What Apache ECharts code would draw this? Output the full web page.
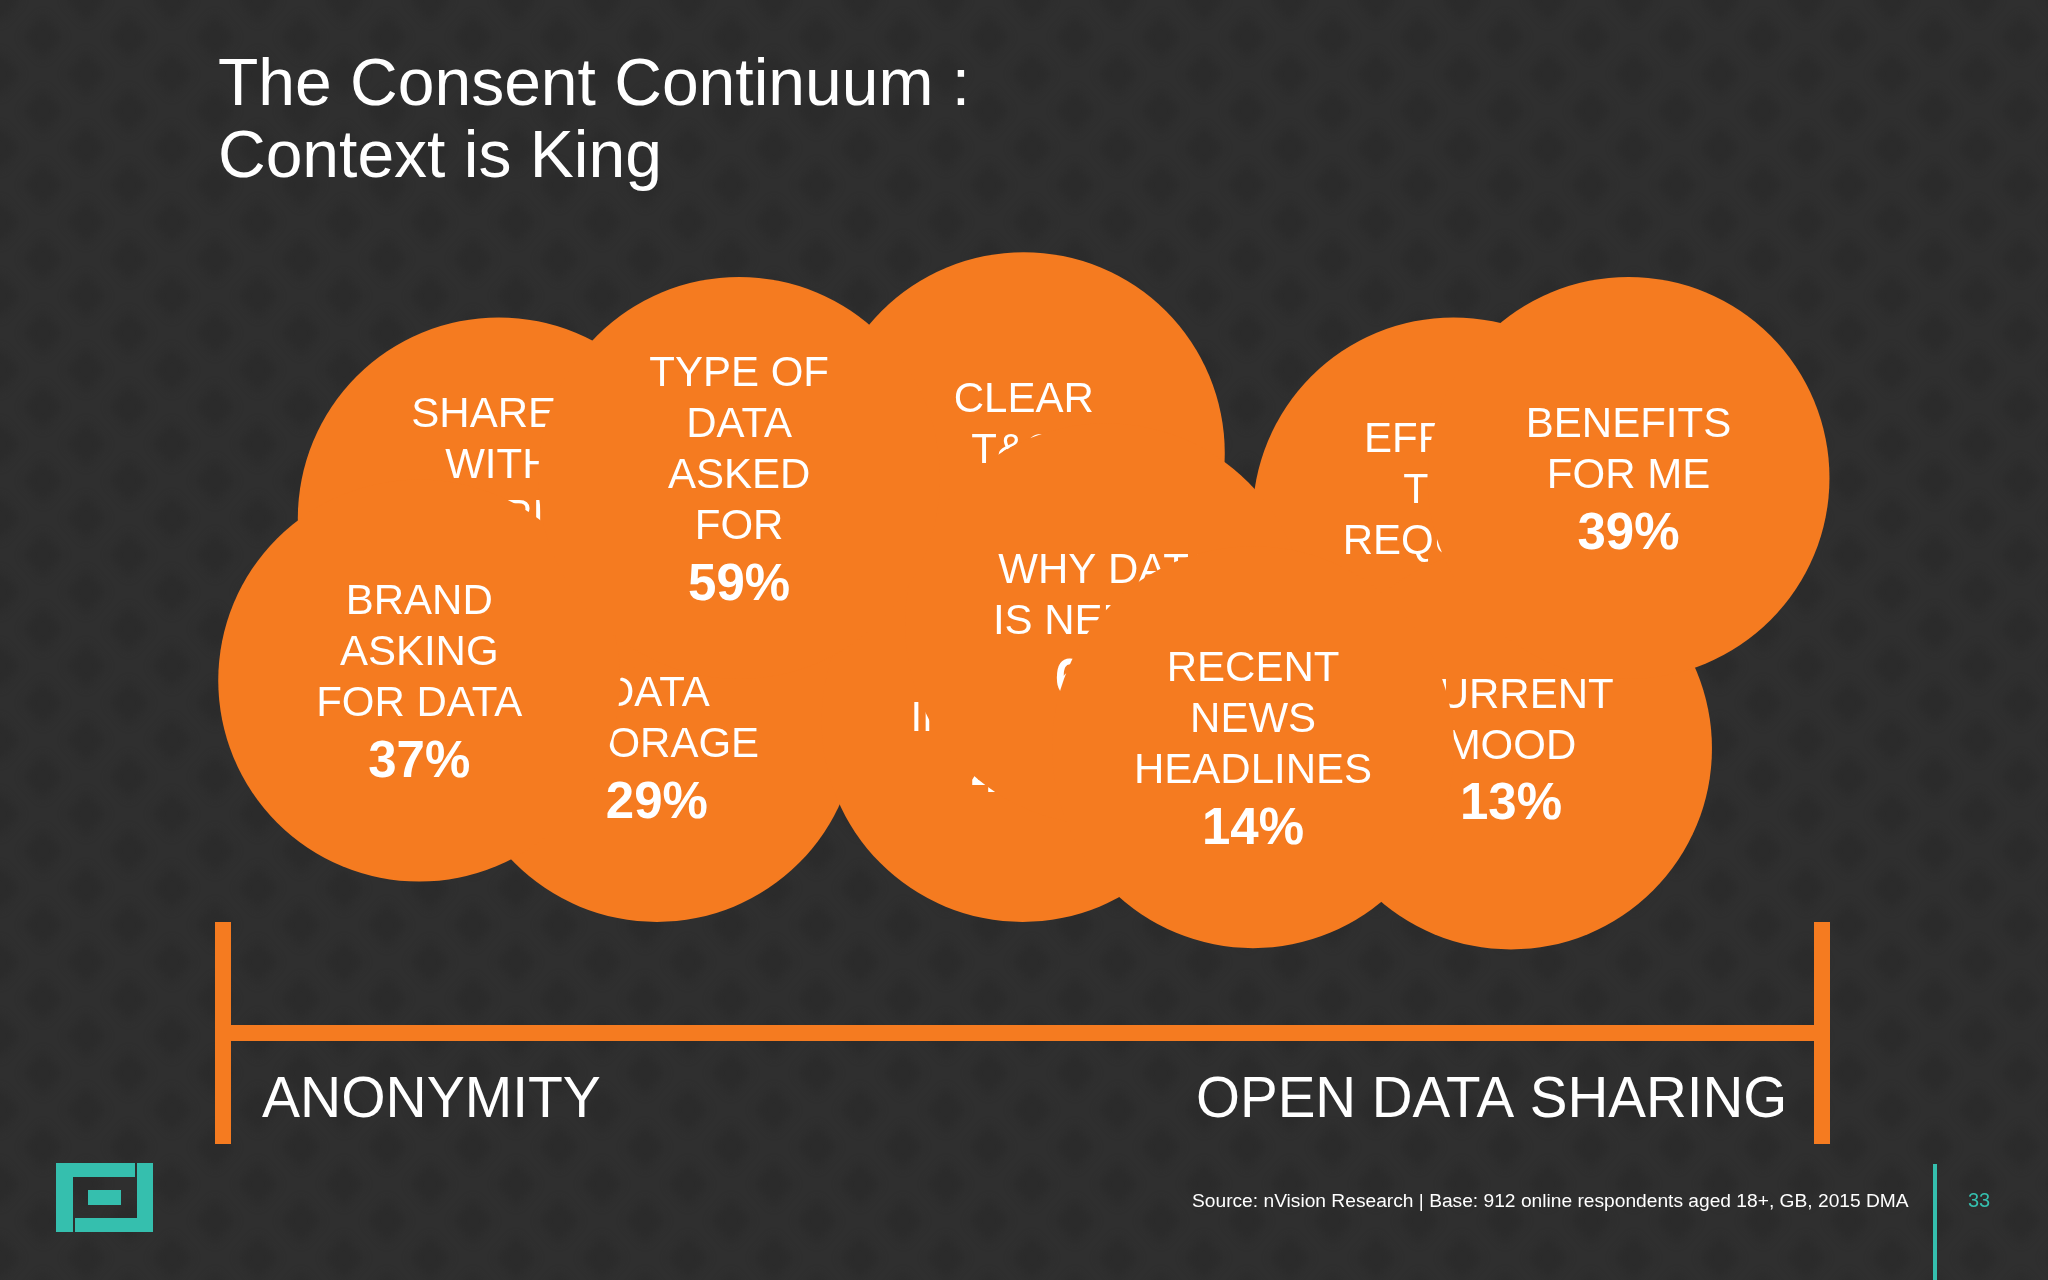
<!DOCTYPE html>
<html><head><meta charset="utf-8">
<style>html,body{margin:0;padding:0;background:#2e2e2f}#c{width:2048px;height:1280px}</style>
<script src="https://cdn.jsdelivr.net/npm/echarts@6/dist/echarts.min.js"></script>
</head><body><div id="c"></div>
<script>
// Bubbles, bottom of the stack first: later ones cover earlier ones and their text.
var bubbleNames = ['LENGTH OF\nDATA\nSTORAGE','SHARED\nWITH\nTHIRD\nPARTIES','EFFORT \nTIME\nREQUIRED','CLEAR\nT&Cs','FINANCIAL\nINCENTIVE','CURRENT\nMOOD','WHY DATA\nIS NEEDED','BRAND\nASKING\nFOR DATA','TYPE OF\nDATA\nASKED\nFOR','RECENT\nNEWS\nHEADLINES','BENEFITS\nFOR ME'];
// Percentages; those of SHARED, EFFORT, CLEAR, INCENTIVE and WHY are hidden in the reference (estimates).
var bubblePercents = [29,35,24,55,48,13,62,37,59,14,39];
// Position along the continuum (0 = anonymity, 100 = open data sharing)
var continuum = [27.16,17.29,76.92,50.08,50.0,80.51,55.22,12.32,32.3,64.4,87.85];
// Height above the continuum bar
var heights = [39.67,65.5,65.5,73.83,39.67,36.17,52.0,44.83,70.67,36.33,70.67];
var titleText = 'The Consent Continuum :\nContext is King';
var leftEnd = 'ANONYMITY', rightEnd = 'OPEN DATA SHARING';
var sourceText = 'Source: nVision Research | Base: 912 online respondents aged 18+, GB, 2015 DMA';
var pageNumber = '33';

var ORANGE='#F57B20', TEAL='#35BFAE', BG='#2F2F2F', FONT='"Liberation Sans",Arial,sans-serif';

// faint, soft diamond wallpaper
function wallpaper(){
  var W=172,H=148,c=document.createElement('canvas');c.width=W;c.height=H;
  var g=c.getContext('2d');g.fillStyle=BG;g.fillRect(0,0,W,H);
  g.filter='blur(4px)';g.fillStyle='#2B2B2B';
  var centres=[[0,0],[86,0],[172,0],[0,74],[86,74],[172,74],[0,148],[86,148],[172,148],
               [43,37],[129,37],[43,111],[129,111]];
  centres.forEach(function(p){
    g.beginPath();g.moveTo(p[0],p[1]-22);g.lineTo(p[0]+20,p[1]);g.lineTo(p[0],p[1]+22);g.lineTo(p[0]-20,p[1]);g.closePath();g.fill();
  });
  return c;
}

var series = bubbleNames.map(function(name,i){
  return {
    type:'scatter', z:i+2, silent:true, symbol:'circle', symbolSize:402,
    itemStyle:{color:ORANGE,opacity:1},
    label:{show:true,position:'inside',offset:[0,6],color:'#fff',fontFamily:FONT,
      formatter:function(){return name.split('\n').map(function(s){return '{t|'+s+'}';}).join('\n')+'\n{p|'+bubblePercents[i]+'%}';},
      rich:{t:{fontSize:42,lineHeight:51,color:'#fff',fontFamily:FONT},
            p:{fontSize:51,lineHeight:66,fontWeight:'bold',color:'#fff',fontFamily:FONT}}},
    data:[[continuum[i],heights[i]]]
  };
});

function rect(x,y,w,h,c){return {type:'rect',silent:true,z:50,shape:{x:x,y:y,width:w,height:h},style:{fill:c}};}
function poly(p,c){return {type:'polygon',silent:true,z:50,shape:{points:p},style:{fill:c}};}
function txt(x,y,t,size,c,align){return {type:'text',silent:true,z:50,x:x,y:y,style:{text:t,fontSize:size,fill:c,fontFamily:FONT,align:align||'left',verticalAlign:'middle'}};}

var chart=echarts.init(document.getElementById('c'),null,{renderer:'canvas',width:2048,height:1280});
chart.setOption({
  animation:false,
  backgroundColor:{image:wallpaper(),repeat:'repeat'},
  title:{text:titleText,left:213,top:46,textStyle:{color:'#fff',fontSize:66,fontWeight:'normal',fontFamily:FONT,lineHeight:72}},
  grid:{left:222,width:1601,top:248,height:784},
  xAxis:{type:'value',min:0,max:100,show:false},
  yAxis:{type:'value',min:0,max:100,show:false},
  series:series,
  graphic:[
    rect(215,922,16,222,ORANGE),rect(1814,922,16,222,ORANGE),rect(231,1025,1583,16,ORANGE),
    txt(262,1101,leftEnd,57,'#fff'),txt(1196,1101,rightEnd,56.5,'#fff'),
    poly([[56,1163],[135,1163],[135,1177],[73,1177],[73,1232],[56,1232]],TEAL),
    poly([[137,1163],[153,1163],[153,1232],[75,1232],[75,1218],[137,1218]],TEAL),
    rect(88,1190,33,15,TEAL),
    rect(1933,1164,4,116,TEAL),
    txt(1192,1202,sourceText,19.2,'#fff'),
    txt(1979,1201,pageNumber,20,TEAL,'center')
  ]
});
</script></body></html>
